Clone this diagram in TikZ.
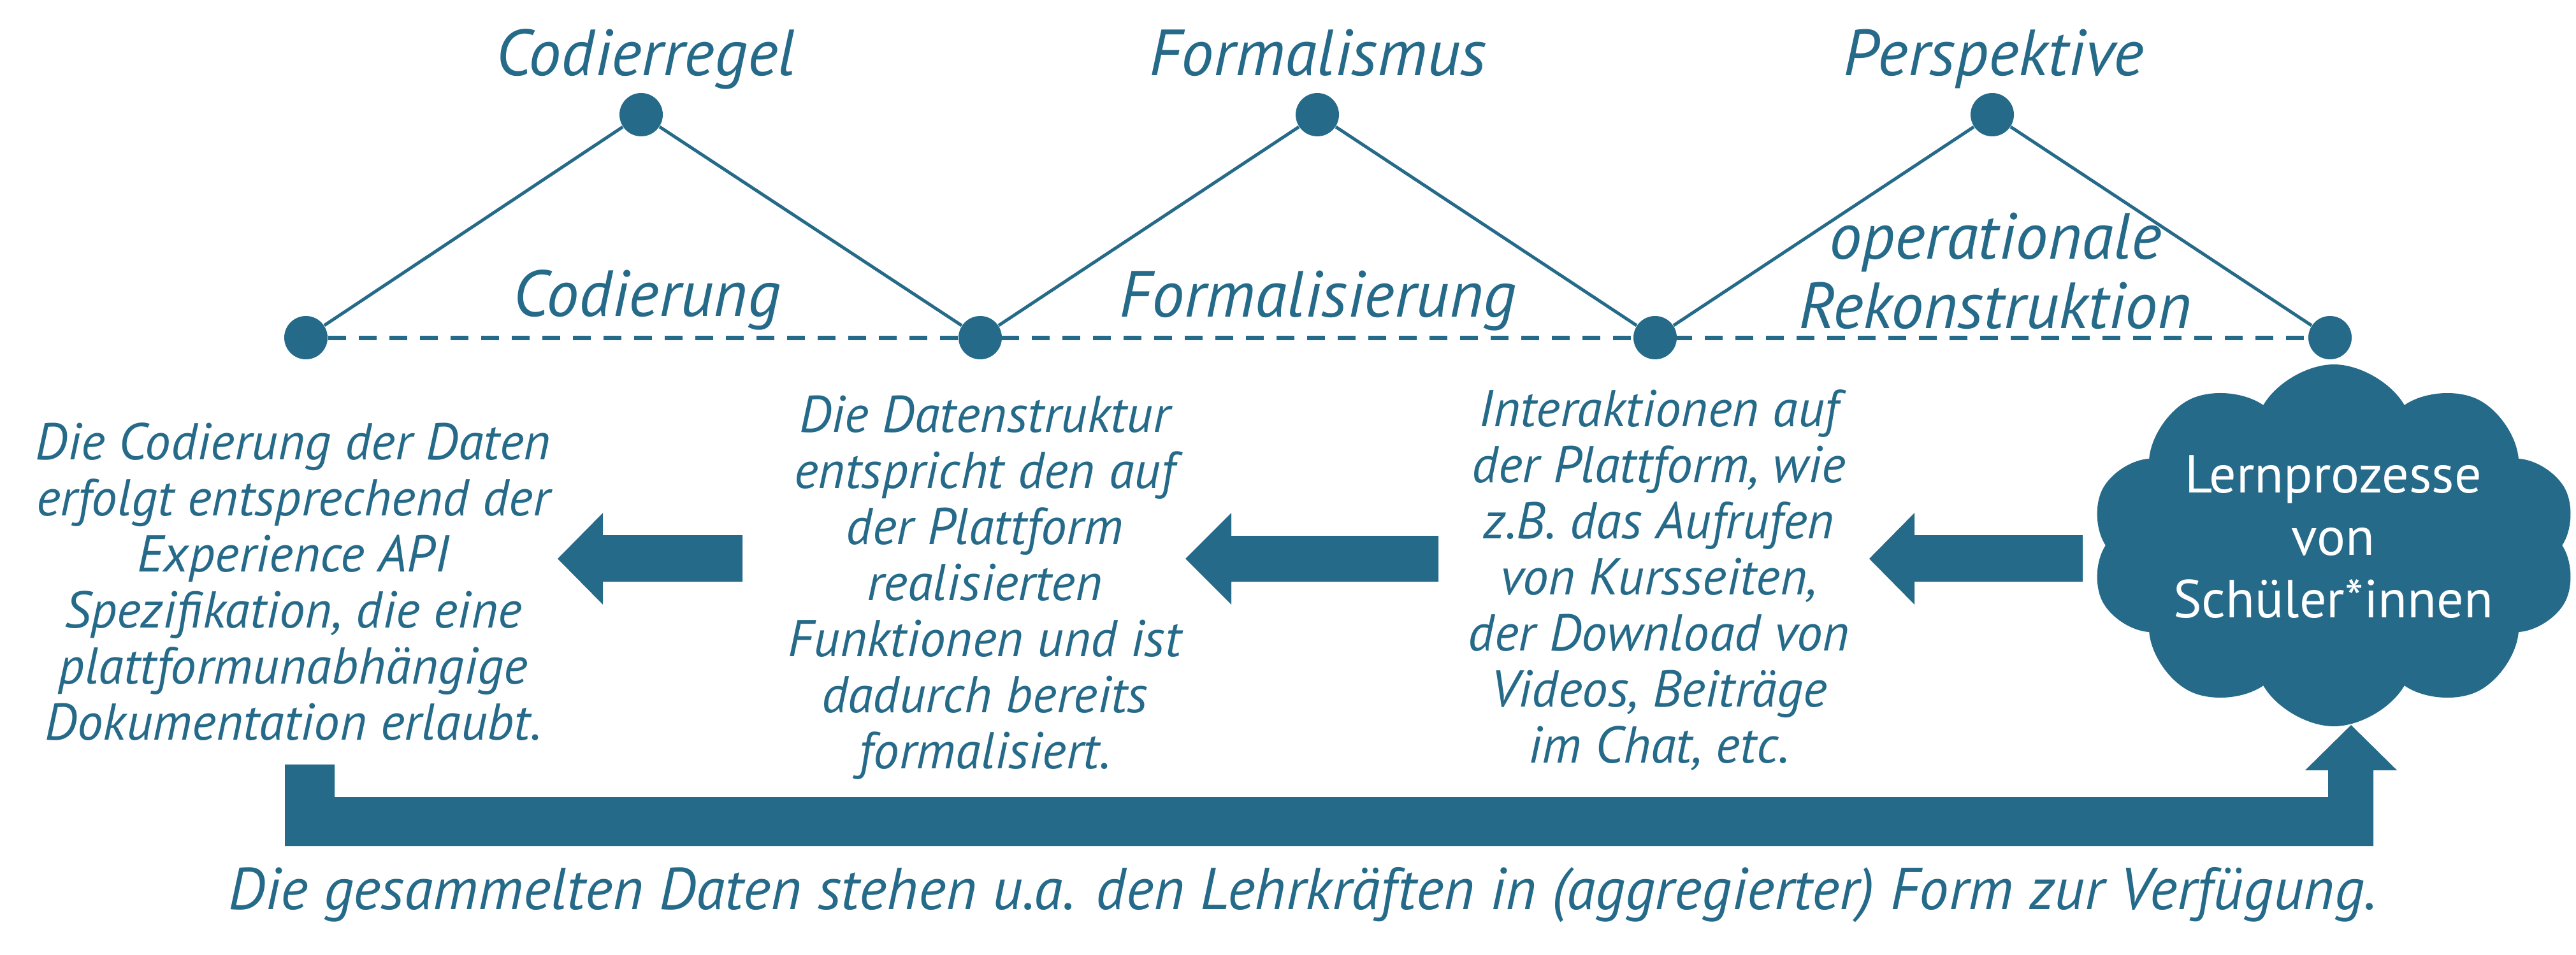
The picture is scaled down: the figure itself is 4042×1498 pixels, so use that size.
\documentclass[tikz,border=0pt]{standalone}
\usepackage{fontspec}
\setmainfont{PT Sans}
\usetikzlibrary{shapes.symbols}
\definecolor{tb}{RGB}{38,106,137}
\begin{document}
\begin{tikzpicture}[x=0.25pt,y=-0.25pt,
  dot/.style={circle,fill=tb,minimum size=17pt,inner sep=0pt},
  link/.style={draw=tb,line width=1.25pt},
  dashlink/.style={draw=tb,line width=1.75pt,dash pattern=on 7pt off 5pt},
  title/.style={text=tb,font=\fontsize{25.6}{27.25}\selectfont\itshape,inner sep=0pt,anchor=base,align=center},
  para/.style={text=tb,font=\fontsize{20.3}{22}\selectfont\itshape,inner sep=0pt,anchor=base,align=center},
  blk/.style={fill=tb}]
\useasboundingbox (0,0) rectangle (4042,1498);

% --- top zigzag ---
\node[dot] (b1) at (480,530) {};
\node[dot] (b2) at (1538,530) {};
\node[dot] (b3) at (2597,530) {};
\node[dot] (b4) at (3656,530) {};
\node[dot] (p1) at (1006,180) {};
\node[dot] (p2) at (2067,180) {};
\node[dot] (p3) at (3126,180) {};
\draw[dashlink] (b1) -- (b4);
\draw[link] (b1) -- (p1) -- (b2) -- (p2) -- (b3) -- (p3) -- (b4);

\node[title] (t1) at (1013,119) {Codierregel};
\node[title] (t2) at (2068,119) {Formalismus};
\node[title] (t3) at (3128,119) {Perspektive};
\node[title] (l1) at (1015,496) {Codierung};
\node[title] (l2) at (2068,497) {Formalisierung};
\node[title] (l3) at (3131,515) {operationale\\Rekonstruktion};

% --- middle texts (anchor = baseline of last line) ---
\node[para] (m1) at (460,1161) {Die Codierung der Daten\\erfolgt entsprechend der\\Experience API\\Spezifikation, die eine\\plattformunabhängige\\Dokumentation erlaubt.};
\node[para] (m2) at (1545,1206) {Die Datenstruktur\\entspricht den auf\\der Plattform\\realisierten\\Funktionen und ist\\dadurch bereits\\formalisiert.};
\node[para] (m3) at (2603,1197) {Interaktionen auf\\der Plattform, wie\\z.B. das Aufrufen\\von Kursseiten,\\der Download von\\Videos, Beiträge\\im Chat, etc.};

% --- block arrows ---
\fill[blk] (875,877) -- (946,805) -- (946,840) -- (1165,840) -- (1165,913) -- (946,913) -- (946,949) -- cycle;
\fill[blk] (1860,877) -- (1932,805) -- (1932,841) -- (2257,841) -- (2257,913) -- (1932,913) -- (1932,949) -- cycle;
\fill[blk] (2933,877) -- (3004,805) -- (3004,840) -- (3268,840) -- (3268,913) -- (3004,913) -- (3004,949) -- cycle;

% --- cloud ---
\node[cloud,cloud puffs=10,cloud puff arc=120,aspect=1.45,fill=tb,inner sep=0pt,
      minimum width=191pt,minimum height=142pt] (cl) at (3662,856) {};
\node[text=white,font=\fontsize{21}{24.5}\selectfont,inner sep=0pt,anchor=base,align=center] (clt) at (3661,969) {Lernprozesse\\von\\Schüler*innen};

% --- feedback arrow ---
\fill[blk] (447,1200) -- (525,1200) -- (525,1251) -- (3653,1251) -- (3653,1209) -- (3617,1209) -- (3689,1138) -- (3761,1209) -- (3724,1209) -- (3724,1328) -- (447,1328) -- cycle;

\node[text=tb,font=\fontsize{23.2}{25}\selectfont\itshape,inner sep=0pt,anchor=base] (bt) at (2044,1427) {Die gesammelten Daten stehen u.a. den Lehrkräften in (aggregierter) Form zur Verfügung.};
\end{tikzpicture}
\end{document}
